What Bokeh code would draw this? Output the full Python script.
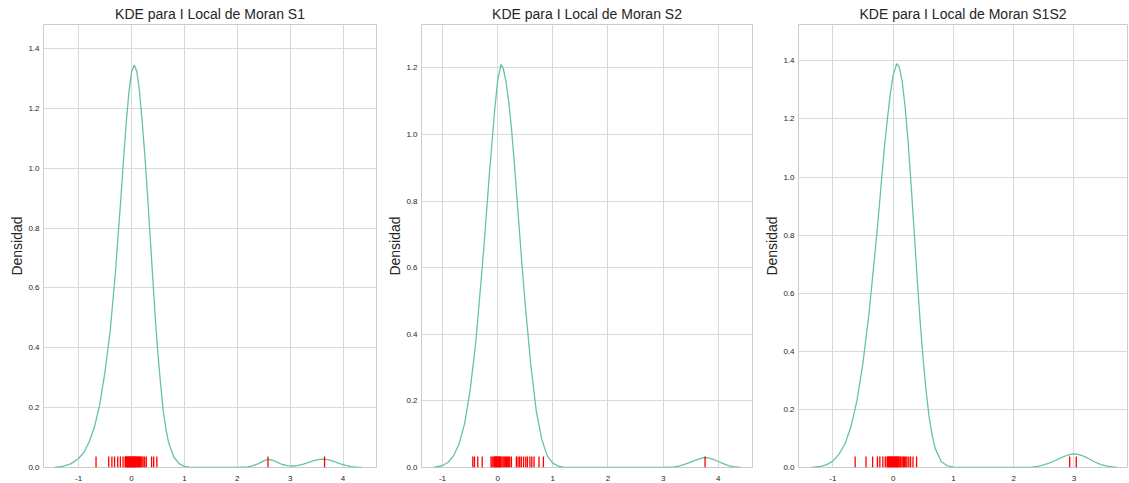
from bokeh.plotting import figure
from bokeh.layouts import row
from bokeh.models import Range1d, FixedTicker, PrintfTickFormatter
from bokeh.embed import file_html
from bokeh.resources import INLINE

titles = ["KDE para I Local de Moran S1", "KDE para I Local de Moran S2", "KDE para I Local de Moran S1S2"]

# KDE curves
kde1_x = [-1.45, -1.3, -1.15, -1.0, -0.9, -0.8, -0.7, -0.6, -0.5, -0.4, -0.3, -0.25, -0.2, -0.15, -0.1, -0.05,
          0.0, 0.05, 0.1, 0.15, 0.2, 0.25, 0.3, 0.35, 0.4, 0.45, 0.5, 0.55, 0.6, 0.65, 0.7, 0.8, 0.9, 1.0,
          1.1, 1.3, 2.0, 2.2, 2.3, 2.4, 2.5, 2.58, 2.66, 2.75, 2.85, 2.95, 3.05, 3.15, 3.25, 3.35, 3.45,
          3.55, 3.65, 3.75, 3.85, 3.95, 4.05, 4.15, 4.25, 4.35]
kde1_y = [0.0, 0.004, 0.012, 0.030, 0.050, 0.085, 0.135, 0.21, 0.32, 0.46, 0.66, 0.78, 0.90, 1.03, 1.15, 1.25,
          1.32, 1.345, 1.325, 1.26, 1.16, 1.05, 0.92, 0.78, 0.64, 0.50, 0.38, 0.28, 0.19, 0.13, 0.085, 0.035, 0.013, 0.004,
          0.001, 0.0, 0.0, 0.002, 0.006, 0.013, 0.022, 0.027, 0.025, 0.018, 0.010, 0.006, 0.005, 0.007, 0.011, 0.017, 0.023,
          0.027, 0.028, 0.025, 0.019, 0.012, 0.007, 0.003, 0.001, 0.0]

kde2_x = [-1.15, -1.0, -0.9, -0.8, -0.7, -0.6, -0.5, -0.4, -0.3, -0.25, -0.2, -0.15, -0.1, -0.05, 0.0, 0.06,
          0.1, 0.15, 0.2, 0.25, 0.3, 0.35, 0.4, 0.45, 0.5, 0.55, 0.6, 0.65, 0.7, 0.8, 0.9, 1.0, 1.1, 1.2,
          1.3, 3.0, 3.2, 3.3, 3.4, 3.5, 3.6, 3.7, 3.76, 3.82, 3.9, 4.0, 4.1, 4.2, 4.3, 4.4]
kde2_y = [0.0, 0.006, 0.015, 0.035, 0.07, 0.13, 0.23, 0.37, 0.56, 0.66, 0.77, 0.88, 0.98, 1.08, 1.16, 1.21,
          1.20, 1.16, 1.10, 1.02, 0.92, 0.81, 0.70, 0.59, 0.49, 0.40, 0.31, 0.24, 0.17, 0.085, 0.035, 0.013, 0.004, 0.001,
          0.0, 0.0, 0.002, 0.005, 0.010, 0.016, 0.023, 0.028, 0.030, 0.029, 0.025, 0.018, 0.011, 0.005, 0.002, 0.0]

kde3_x = [-1.35, -1.2, -1.1, -1.0, -0.9, -0.8, -0.7, -0.6, -0.5, -0.4, -0.3, -0.25, -0.2, -0.15, -0.1, -0.05,
          0.0, 0.06, 0.1, 0.15, 0.2, 0.25, 0.3, 0.35, 0.4, 0.45, 0.5, 0.55, 0.6, 0.65, 0.7, 0.8, 0.9, 1.0,
          1.2, 2.2, 2.3, 2.4, 2.5, 2.6, 2.7, 2.8, 2.9, 2.98, 3.05, 3.15, 3.25, 3.35, 3.45, 3.55, 3.65, 3.72]
kde3_y = [0.0, 0.004, 0.010, 0.022, 0.045, 0.08, 0.14, 0.23, 0.36, 0.53, 0.74, 0.85, 0.97, 1.09, 1.19, 1.28,
          1.35, 1.39, 1.38, 1.33, 1.24, 1.12, 0.97, 0.81, 0.65, 0.50, 0.37, 0.26, 0.17, 0.11, 0.065, 0.02, 0.006, 0.001,
          0.0, 0.0, 0.001, 0.004, 0.009, 0.016, 0.025, 0.035, 0.043, 0.047, 0.046, 0.040, 0.030, 0.019, 0.010, 0.005, 0.002, 0.0]

# Rug observations
rug1 = [-0.67, -0.43, -0.37, -0.32, -0.26, -0.21, -0.16, -0.12, -0.11, -0.10, -0.09, -0.08, -0.07, -0.06,
        -0.05, -0.04, -0.03, -0.02, -0.01, 0.0, 0.01, 0.02, 0.03, 0.04, 0.05, 0.06, 0.07, 0.08, 0.09, 0.10,
        0.11, 0.13, 0.14, 0.15, 0.17, 0.18, 0.20, 0.22, 0.25, 0.28, 0.38, 0.42, 0.48, 2.58, 3.65]
rug2 = [-0.45, -0.42, -0.36, -0.28, -0.12, -0.10, -0.08, -0.06, -0.05, -0.04, -0.03, -0.02, -0.01, 0.0,
        0.01, 0.02, 0.03, 0.04, 0.05, 0.06, 0.08, 0.10, 0.12, 0.14, 0.16, 0.18, 0.20, 0.22, 0.25, 0.34,
        0.37, 0.40, 0.43, 0.47, 0.51, 0.54, 0.585, 0.62, 0.66, 0.75, 0.83, 3.76]
rug3 = [-0.63, -0.45, -0.34, -0.26, -0.22, -0.17, -0.13, -0.10, -0.09, -0.08, -0.07, -0.06, -0.05, -0.04,
        -0.03, -0.02, -0.01, 0.0, 0.01, 0.02, 0.03, 0.04, 0.05, 0.06, 0.07, 0.08, 0.09, 0.10, 0.12, 0.13,
        0.15, 0.17, 0.19, 0.21, 0.23, 0.26, 0.29, 0.33, 0.39, 2.93, 3.04]

x_ticks = [[-1, 0, 1, 2, 3, 4], [-1, 0, 1, 2, 3, 4], [-1, 0, 1, 2, 3]]
y_ticks = [[0.0, 0.2, 0.4, 0.6, 0.8, 1.0, 1.2, 1.4], [0.0, 0.2, 0.4, 0.6, 0.8, 1.0, 1.2],
           [0.0, 0.2, 0.4, 0.6, 0.8, 1.0, 1.2, 1.4]]
x_limits = [(-1.663, 4.632), (-1.38, 4.62), (-1.57, 3.89)]
y_limits = [(0.0, 1.48), (0.0, 1.33), (0.0, 1.525)]

curves = [(kde1_x, kde1_y), (kde2_x, kde2_y), (kde3_x, kde3_y)]
rugs = [rug1, rug2, rug3]

widths = [378, 376, 375]
left_borders = [43, 43, 44]

FONT = "Liberation Sans"
GRID = "#d9d9d9"
TXT = "#262626"

figs = []
for i in range(3):
    p = figure(width=widths[i], height=483, output_backend="svg", toolbar_location=None,
               x_range=Range1d(*x_limits[i]), y_range=Range1d(*y_limits[i]),
               min_border_left=left_borders[i], min_border_right=2, min_border_top=0, min_border_bottom=0)
    p.title.text = titles[i]
    p.title.align = "center"
    p.title.text_font = FONT
    p.title.text_font_size = "14px"
    p.title.text_font_style = "normal"
    p.title.text_color = TXT
    p.title.standoff = 6
    p.outline_line_color = "#cccccc"
    p.outline_line_width = 1
    p.background_fill_color = "white"
    p.border_fill_color = "white"

    p.xaxis.ticker = FixedTicker(ticks=x_ticks[i])
    p.yaxis.ticker = FixedTicker(ticks=y_ticks[i])
    p.yaxis.formatter = PrintfTickFormatter(format="%.1f")
    p.xaxis.formatter = PrintfTickFormatter(format="%d")
    for ax in (p.xaxis, p.yaxis):
        ax.axis_line_color = None
        ax.major_tick_line_color = None
        ax.minor_tick_line_color = None
        ax.major_tick_out = 0
        ax.major_tick_in = 0
        ax.minor_tick_out = 0
        ax.major_label_text_font = FONT
        ax.major_label_text_font_size = "8px"
        ax.major_label_text_color = TXT
    p.xaxis.major_label_standoff = 8
    p.yaxis.major_label_standoff = 4
    p.yaxis.axis_label = "Densidad"
    p.yaxis.axis_label_text_font = FONT
    p.yaxis.axis_label_text_font_size = "14px"
    p.yaxis.axis_label_text_font_style = "normal"
    p.yaxis.axis_label_text_color = TXT
    p.yaxis.axis_label_standoff = 0

    p.xgrid.grid_line_color = GRID
    p.ygrid.grid_line_color = GRID
    p.xgrid.grid_line_width = 1
    p.ygrid.grid_line_width = 1

    cx, cy = curves[i]
    p.line(cx, cy, line_color="#66c2a5", line_width=1.3)

    r = rugs[i]
    rug_top = 0.025 * (y_limits[i][1] - y_limits[i][0])
    p.segment(x0=r, y0=[0.0] * len(r), x1=r, y1=[rug_top] * len(r), line_color="red", line_width=1.3)
    figs.append(p)

layout = row(*figs, spacing=0)
open("out.html", "w").write(file_html(layout, INLINE))
